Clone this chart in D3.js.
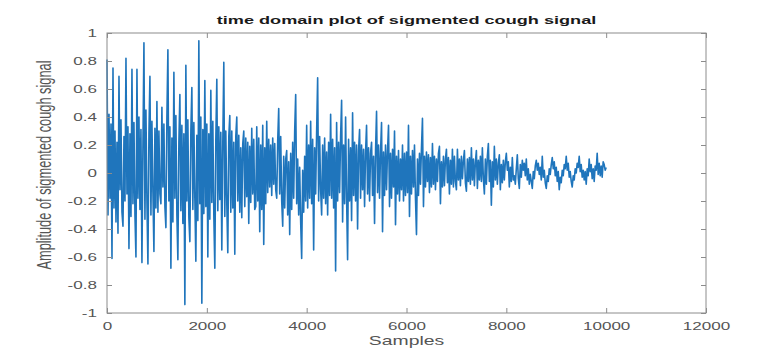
<!DOCTYPE html>
<html>
<head>
<meta charset="utf-8">
<script src="https://cdn.jsdelivr.net/npm/d3@7"></script>
<style>
  body { margin: 0; background: #fff; }
  text { font-family: "Liberation Sans", Arial, Helvetica, sans-serif; }
</style>
</head>
<body>
<div id="chart"></div>
<script>
// amplitude, one value every SAMPLE_STEP samples (0 .. 10000)
const SAMPLE_STEP = 20;
const amplitude = [
  0.81, -0.30, 0.42, -0.18, 0.35, -0.61, 0.75, -0.25, 0.30, -0.35, 0.22, -0.43, 0.69, -0.12, 0.38, -0.28, -0.38, 0.26, -0.20, 0.82, -0.15, 0.33, -0.54, 0.28, -0.31,
  0.74, -0.22, 0.36, -0.30, -0.60, 0.74, -0.18, 0.40, -0.26, 0.31, -0.64, 0.20, 0.93, -0.33, 0.45, -0.21, -0.65, 0.28, 0.69, -0.30, 0.37, -0.14, -0.56, 0.32, -0.25,
  0.51, -0.28, 0.30, -0.15, -0.22, 0.47, -0.10, 0.35, -0.24, -0.39, 0.40, 0.88, -0.20, 0.33, -0.68, 0.25, -0.35, 0.72, -0.18, 0.41, -0.30, -0.62, 0.22, 0.56, -0.27,
  0.34, -0.36, 0.28, -0.94, 0.77, -0.20, 0.38, -0.32, -0.49, 0.30, 0.61, -0.26, 0.36, -0.18, -0.63, 0.27, -0.34, 0.945, -0.22, 0.40, -0.93, 0.31, -0.29, 0.66, -0.24,
  0.35, -0.60, 0.28, -0.33, 0.59, -0.21, 0.37, -0.30, -0.68, 0.24, 0.67, -0.27, 0.33, -0.19, 0.29, -0.55, 0.22, 0.79, -0.31, 0.30, -0.22, -0.57, 0.26, 0.41, -0.28,
  0.30, -0.25, 0.22, -0.58, 0.26, 0.40, -0.20, 0.27, -0.28, 0.18, -0.32, 0.21, 0.30, -0.24, 0.25, -0.17, 0.22, -0.36, 0.19, -0.21, 0.32, -0.15, 0.24, -0.26, -0.24,
  0.33, -0.20, 0.25, -0.42, 0.20, -0.26, 0.34, -0.51, 0.18, -0.22, 0.37, -0.14, 0.24, -0.10, 0.20, -0.16, 0.25, -0.08, 0.21, -0.12, -0.18, 0.23, 0.46, -0.15, 0.26,
  -0.20, -0.38, 0.12, -0.25, 0.10, 0.16, -0.30, 0.08, -0.44, 0.14, -0.26, 0.22, -0.18, 0.30, 0.56, -0.22, 0.10, -0.30, 0.04, -0.35, -0.61, 0.02, -0.28, 0.12, -0.20,
  0.34, -0.25, 0.20, -0.18, 0.37, -0.22, 0.24, -0.55, 0.18, -0.15, 0.30, 0.68, -0.20, 0.26, -0.12, -0.30, 0.20, -0.18, 0.25, -0.22, 0.15, -0.30, 0.22, -0.16, 0.42,
  -0.18, 0.24, -0.25, 0.18, -0.70, 0.36, -0.20, 0.22, -0.14, 0.26, 0.52, -0.35, 0.20, -0.22, 0.40, -0.18, -0.62, 0.24, -0.20, 0.18, -0.34, 0.43, -0.16, 0.22, -0.20,
  0.20, -0.40, 0.16, 0.31, -0.18, 0.20, -0.12, 0.17, -0.24, 0.15, 0.34, -0.15, 0.18, -0.20, 0.14, 0.22, -0.16, 0.12, -0.36, 0.16, 0.44, -0.14, 0.20, -0.18, 0.15,
  0.36, -0.42, 0.15, -0.16, 0.20, -0.12, 0.16, 0.34, -0.24, 0.14, -0.18, 0.17, -0.10, 0.30, -0.37, 0.12, -0.15, 0.16, -0.20, 0.10, -0.12, 0.20, -0.20, 0.14, -0.16,
  0.15, -0.14, 0.34, -0.31, 0.12, -0.15, 0.16, -0.10, 0.20, -0.18, -0.44, 0.10, -0.16, 0.14, -0.08, 0.18, 0.39, -0.24, 0.12, -0.10, 0.15, -0.06, 0.13, -0.14, 0.11,
  -0.10, 0.21, -0.08, 0.12, -0.12, 0.10, -0.06, 0.14, 0.19, -0.22, 0.08, -0.10, 0.12, -0.09, 0.10, 0.17, -0.07, 0.11, -0.15, 0.09, -0.08, 0.17, -0.10, 0.12, -0.06,
  -0.12, 0.17, -0.05, 0.10, -0.09, 0.12, -0.04, 0.09, 0.16, -0.07, -0.13, 0.10, -0.06, 0.11, -0.08, 0.18, -0.05, 0.10, -0.09, 0.08, 0.16, -0.11, 0.09, -0.05, 0.12,
  -0.06, 0.18, -0.04, -0.15, 0.10, -0.08, 0.12, 0.21, -0.06, 0.09, -0.23, 0.08, -0.10, 0.19, -0.05, 0.10, -0.08, 0.07, 0.13, -0.12, 0.06, -0.07, 0.09, -0.05, 0.08,
  0.14, 0.02, 0.08, -0.10, 0.04, -0.06, 0.11, -0.05, -0.02, -0.08, 0.03, 0.13, -0.04, -0.11, 0.06, -0.03, 0.09, 0.02, 0.07, -0.02, 0.10, -0.05, 0.03, -0.08, -0.01,
  -0.06, -0.11, 0.01, -0.04, 0.05, 0.09, 0.02, 0.07, -0.01, 0.04, -0.05, 0.12, -0.03, 0.02, -0.07, -0.11, -0.02, -0.06, 0.03, -0.01, 0.06, 0.11, 0.03, 0.08, -0.02,
  0.04, -0.06, 0.01, -0.12, -0.03, -0.07, 0.02, -0.02, 0.06, 0.03, 0.12, 0.02, 0.07, -0.03, 0.01, -0.06, -0.10, -0.02, -0.05, 0.03, 0.00, 0.07, 0.04, 0.12, 0.01,
  0.06, -0.03, 0.02, -0.05, 0.01, -0.08, 0.03, -0.02, 0.10, 0.01, 0.06, -0.04, 0.03, -0.06, 0.05, 0.02, 0.14, -0.01, 0.07, -0.02, 0.05, -0.03, 0.08, 0.06, 0.02,
  0.04
];

const xTicks = [0, 2000, 4000, 6000, 8000, 10000, 12000];
const yTicks = [-1, -0.8, -0.6, -0.4, -0.2, 0, 0.2, 0.4, 0.6, 0.8, 1];

const titleText = 'time domain plot of sigmented cough signal';
const xLabelText = 'Samples';
const yLabelText = 'Amplitude of sigmented cough signal';

const width = 767, height = 349;
const margin = { top: 33, right: 61, bottom: 36, left: 107 };
const STRETCH = 1.55; // the picture's text is stretched sideways

const svg = d3.select('#chart')
  .append('svg')
  .attr('width', width)
  .attr('height', height);

const xScale = d3.scaleLinear().domain([0, 12000]).range([margin.left, width - margin.right]);
const yScale = d3.scaleLinear().domain([-1, 1]).range([height - margin.bottom, margin.top]);

// signal line
const line = d3.line()
  .x((_, i) => xScale(i * SAMPLE_STEP))
  .y(d => yScale(d));

svg.append('path')
  .datum(amplitude)
  .attr('fill', 'none')
  .attr('stroke', '#1f75bc')
  .attr('stroke-width', 1.6)
  .attr('stroke-linejoin', 'round')
  .attr('d', line);

const boxColor = '#8c8c8c';
const labelColor = '#555';
const fmt = d => d === 0 ? '0' : String(+d.toFixed(1));

// bottom axis with labels
const xAxis = svg.append('g')
  .attr('transform', `translate(0, ${height - margin.bottom})`)
  .call(d3.axisBottom(xScale).tickValues(xTicks).tickFormat(d3.format('d')).tickSize(-5).tickPadding(9).tickSizeOuter(0));

// left axis with labels
const yAxis = svg.append('g')
  .attr('transform', `translate(${margin.left}, 0)`)
  .call(d3.axisLeft(yScale).tickValues(yTicks).tickFormat(fmt).tickSize(-5).tickPadding(6.5).tickSizeOuter(0));

// top and right ticks, no labels
svg.append('g')
  .attr('transform', `translate(0, ${margin.top})`)
  .call(d3.axisTop(xScale).tickValues(xTicks).tickSize(-5).tickFormat('').tickSizeOuter(0));

svg.append('g')
  .attr('transform', `translate(${width - margin.right}, 0)`)
  .call(d3.axisRight(yScale).tickValues(yTicks).tickSize(-5).tickFormat('').tickSizeOuter(0));

svg.selectAll('.domain').remove();
svg.selectAll('.tick line').attr('stroke', boxColor);

[xAxis, yAxis].forEach(g => {
  g.selectAll('text')
    .attr('font-size', '11px')
    .attr('fill', labelColor)
    .attr('transform', `scale(${STRETCH},1)`);
});

// axes box
svg.append('rect')
  .attr('x', margin.left)
  .attr('y', margin.top)
  .attr('width', width - margin.left - margin.right)
  .attr('height', height - margin.top - margin.bottom)
  .attr('fill', 'none')
  .attr('stroke', boxColor)
  .attr('stroke-width', 1);

// title
svg.append('text')
  .attr('transform', `translate(${(margin.left + width - margin.right) / 2}, 24) scale(${STRETCH},1)`)
  .attr('text-anchor', 'middle')
  .attr('font-size', '11.7px')
  .attr('font-weight', 'bold')
  .attr('fill', '#1a1a1a')
  .text(titleText);

// x label
svg.append('text')
  .attr('transform', `translate(${(margin.left + width - margin.right) / 2}, 345) scale(${STRETCH},1)`)
  .attr('text-anchor', 'middle')
  .attr('font-size', '12.5px')
  .attr('fill', labelColor)
  .text(xLabelText);

// y label
svg.append('text')
  .attr('transform', `translate(51, 165) scale(${STRETCH},1) rotate(-90)`)
  .attr('text-anchor', 'middle')
  .attr('font-size', '12.8px')
  .attr('fill', labelColor)
  .text(yLabelText);
</script>
</body>
</html>
